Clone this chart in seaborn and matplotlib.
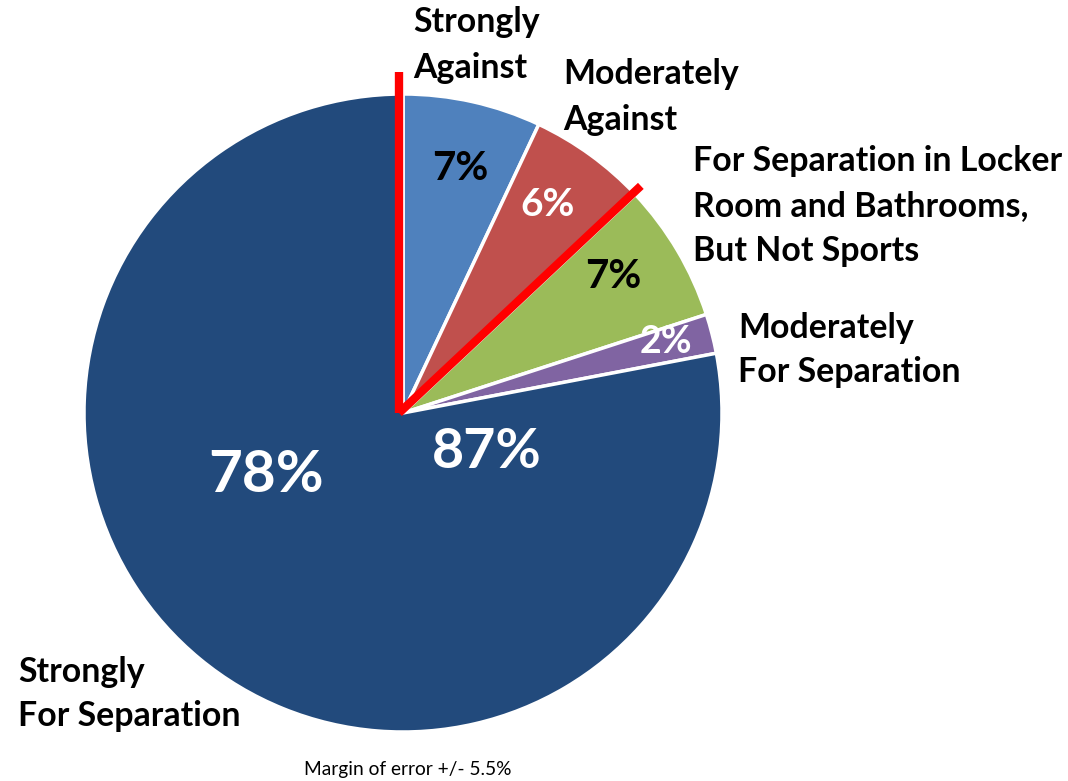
import numpy as np
import matplotlib
matplotlib.use("Agg")
import matplotlib.pyplot as plt
import seaborn as sns

# slice order: clockwise from 12 o'clock
categories = [
    "Strongly\nAgainst",
    "Moderately\nAgainst",
    "For Separation in Locker\nRoom and Bathrooms,\nBut Not Sports",
    "Moderately\nFor Separation",
    "Strongly\nFor Separation",
]
values = [7, 6, 7, 2, 78]
pct_labels = ["7%", "6%", "7%", "2%", "78%"]
pct_colors = ["black", "white", "black", "white", "white"]
combined_label = "87%"
footnote = "Margin of error +/- 5.5%"

sns.set_theme(style="white")
plt.rcParams["font.family"] = ["Lato", "DejaVu Sans"]

colors = ["#4F81BD", "#C0504D", "#9BBB59", "#8064A2", "#224A7C"]

fig = plt.figure(figsize=(10.68, 7.81), dpi=100)
ax = fig.add_axes([0, 0, 1, 1])

cx, cy, R = 403, 368, 319
wedges, _ = ax.pie(values, colors=colors, startangle=90, counterclock=False,
                   center=(cx, cy), radius=R,
                   wedgeprops=dict(edgecolor="white", linewidth=2.5))
ax.set_xlim(0, 1068)
ax.set_ylim(0, 781)
ax.set_aspect("equal")
ax.axis("off")

# red dividers: at the start of the pie and after the "against" slices
ox, oy = 399, 368
bounds = 90 - 360 * np.cumsum([0] + values) / sum(values)
for ang, ext in [(bounds[0], 1.07), (bounds[2], 1.04)]:
    a = np.deg2rad(ang)
    ax.plot([ox, ox + ext * R * np.cos(a)], [oy, oy + ext * R * np.sin(a)],
            color="#FF0000", lw=6, solid_capstyle="butt", zorder=5)

# category labels
label_pos = [(413, 736), (563, 684), (693, 575), (738, 431), (18, 87)]
for lab, (x, y) in zip(categories, label_pos):
    ax.text(x, y, lab, ha="left", va="center", fontsize=24.4, fontweight="bold",
            color="black", linespacing=1.5)

# percent labels
pct_pos = [(460, 613, 29), (548, 577, 28), (613, 504, 29), (666, 439, 27), (266, 306, 42)]
for lab, col, (x, y, fs) in zip(pct_labels, pct_colors, pct_pos):
    ax.text(x, y, lab, ha="center", va="center", fontsize=fs,
            fontweight="bold", color=col)

ax.text(487, 329, combined_label, ha="center", va="center", fontsize=40,
        fontweight="bold", color="white")

ax.text(408, 11, footnote, ha="center", va="center", fontsize=13.8,
        color="black")

fig.savefig("out.png", dpi=100)
